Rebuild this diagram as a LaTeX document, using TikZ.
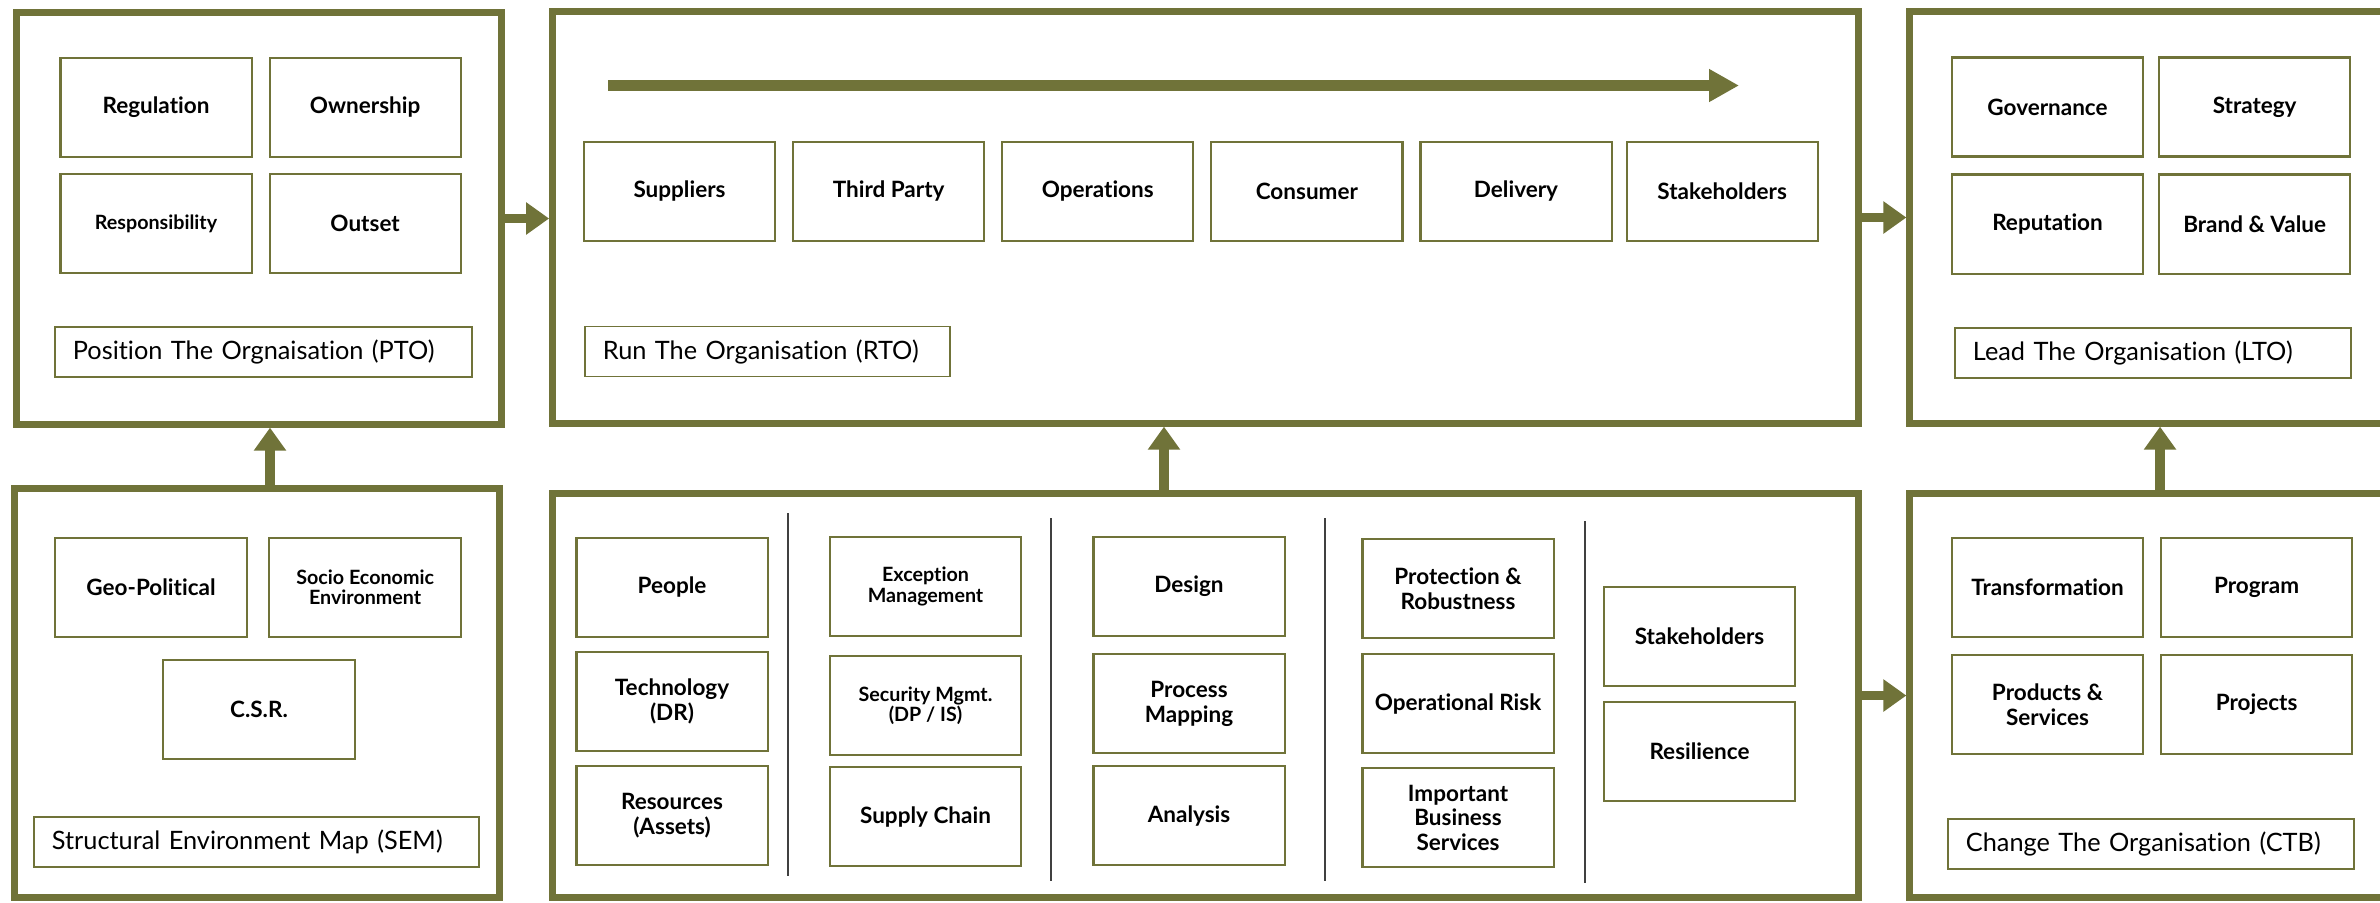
\documentclass[tikz,border=0pt]{standalone}
\usepackage{fontspec}
\setmainfont{Lato}[Ligatures=NoCommon]
\usepackage{xcolor}
\usepackage{tikz}
\usetikzlibrary{arrows.meta, positioning}
\definecolor{moss}{HTML}{707339}
\newcommand{\cellfont}{\fontsize{6.4}{7}\selectfont\bfseries}
\newcommand{\cellsmall}{\fontsize{5.6}{5.8}\selectfont\bfseries}
\newcommand{\tagfont}{\fontsize{7.2}{9}\selectfont}

\begin{document}
\begin{tikzpicture}[
    x=0.01cm, y=-0.01cm,
    panel/.style={draw=moss, line width=2pt, inner sep=0pt,
                  minimum width=4.84cm, minimum height=4.11cm},
    cell/.style={draw=moss, line width=0.6pt, fill=white, minimum width=1.91cm,
                 minimum height=0.99cm, inner sep=1pt, outer sep=0pt,
                 align=center, font=\cellfont},
    small/.style={font=\cellsmall},
    tag/.style={draw=moss, line width=0.5pt, anchor=west, minimum height=0.5cm,
                inner xsep=0.18cm, inner ysep=0pt, align=left, font=\tagfont},
    flow/.style={color=moss, line width=0.095cm, -{Triangle[length=0.23cm, width=0.31cm]}},
    divider/.style={draw=black!75, line width=0.4pt},
    node distance=0.18cm,
]
    \useasboundingbox (0,0) rectangle (2380,902);
    \clip (0,0) rectangle (2380,902);

    % outer frames
    \node[panel] (pto) at (259,218.5) {};
    \node[panel, minimum width=13.05cm] (rto) at (1205.5,217.5) {};
    \node[panel] (lto) at (2152,217.5) {};
    \node[panel, minimum height=4.08cm] (sem) at (257,693) {};
    \node[panel, minimum width=13.05cm, minimum height=4.03cm] (core) at (1205.5,695.5) {};
    \node[panel, minimum height=4.03cm] (ctb) at (2152,695.5) {};

    % position
    \node[cell] (reg) at (156,107.5) {Regulation};
    \node[cell, right=of reg] (own) {Ownership};
    \node[cell, small, below=0.17cm of reg] (resp) {Responsibility};
    \node[cell, right=of resp] (outset) {Outset};
    \node[tag, text width=3.81cm] (ptotag) at (54,352) {Position The Orgnaisation (PTO)};

    % run
    \coordinate (flowstart) at (608,85.5);
    \coordinate (flowend) at (1739,85.5);
    \draw[color=moss, line width=0.11cm, -{Triangle[length=0.30cm, width=0.31cm]}] (flowstart) -- (flowend);
    \node[cell] (sup) at (679.5,191.5) {Suppliers};
    \node[cell, right=of sup] (third) {Third Party};
    \node[cell, right=of third] (ops) {Operations};
    \node[cell, right=of ops] (cons) {Consumer};
    \node[cell, right=of cons] (deliv) {Delivery};
    \node[cell, right=0.15cm of deliv] (stake) {Stakeholders};
    \node[tag, text width=3.29cm] (rtotag) at (584,351.5) {Run The Organisation (RTO)};

    % lead
    \node[cell] (gov) at (2047.5,107) {Governance};
    \node[cell, right=0.16cm of gov] (strat) {Strategy};
    \node[cell, below=of gov] (rep) {Reputation};
    \node[cell, right=0.16cm of rep] (brand) {Brand \& Value};
    \node[tag, text width=3.6cm] (ltotag) at (1954,353) {Lead The Organisation (LTO)};

    % structural environment
    \node[cell, minimum width=1.92cm] (geo) at (151,587.5) {Geo-Political};
    \node[cell, small, minimum width=1.92cm, right=0.22cm of geo] (socio) {Socio Economic\\Environment};
    \node[cell, minimum width=1.92cm] (csr) at (259,709.5) {C.S.R.};
    \node[tag, text width=4.09cm] (semtag) at (33,842) {Structural Environment Map (SEM)};

    % core columns
    \node[cell] (people) at (672,587.5) {People};
    \node[cell, below=0.15cm of people] (tech) {Technology\\(DR)};
    \node[cell, below=0.15cm of tech] (res) {Resources\\(Assets)};
    \node[cell, small] (exc) at (925.5,586.5) {Exception\\Management};
    \node[cell, small, below=0.2cm of exc] (sec) {Security Mgmt.\\(DP / IS)};
    \node[cell, below=0.12cm of sec] (chain) {Supply Chain};
    \node[cell] (design) at (1189,586.5) {Design};
    \node[cell, below=0.18cm of design] (proc) {Process\\Mapping};
    \node[cell, below=0.13cm of proc] (anal) {Analysis};
    \node[cell] (prot) at (1458,588.5) {Protection \&\\Robustness};
    \node[cell, below=0.16cm of prot] (oprisk) {Operational Risk};
    \node[cell, below=0.15cm of oprisk] (ibs) {Important\\Business\\Services};
    \node[cell] (stake2) at (1699.5,636.5) {Stakeholders};
    \node[cell, below=0.16cm of stake2] (resil) {Resilience};
    \draw[divider] (788,513) -- (788,876);
    \draw[divider] (1051,518) -- (1051,881);
    \draw[divider] (1325,518) -- (1325,881);
    \draw[divider] (1585,521) -- (1585,883);

    % change
    \node[cell] (trans) at (2047.5,587.5) {Transformation};
    \node[cell, right=of trans] (prog) {Program};
    \node[cell, below=of trans] (prod) {Products \&\\Services};
    \node[cell, right=of prod] (proj) {Projects};
    \node[tag, text width=3.7cm] (ctbtag) at (1947,844) {Change The Organisation (CTB)};

    % links between frames
    \draw[flow] (pto.east) -- (pto.east -| rto.west);
    \draw[flow] (rto.east) -- (rto.east -| lto.west);
    \draw[flow] (core.east) -- (core.east -| ctb.west);
    \draw[flow] ([xshift=0.13cm]sem.north) -- ([xshift=0.13cm]sem.north |- pto.south);
    \draw[flow] ([xshift=-0.415cm]core.north) -- ([xshift=-0.415cm]core.north |- rto.south);
    \draw[flow] ([xshift=0.08cm]ctb.north) -- ([xshift=0.08cm]ctb.north |- lto.south);
\end{tikzpicture}
\end{document}
